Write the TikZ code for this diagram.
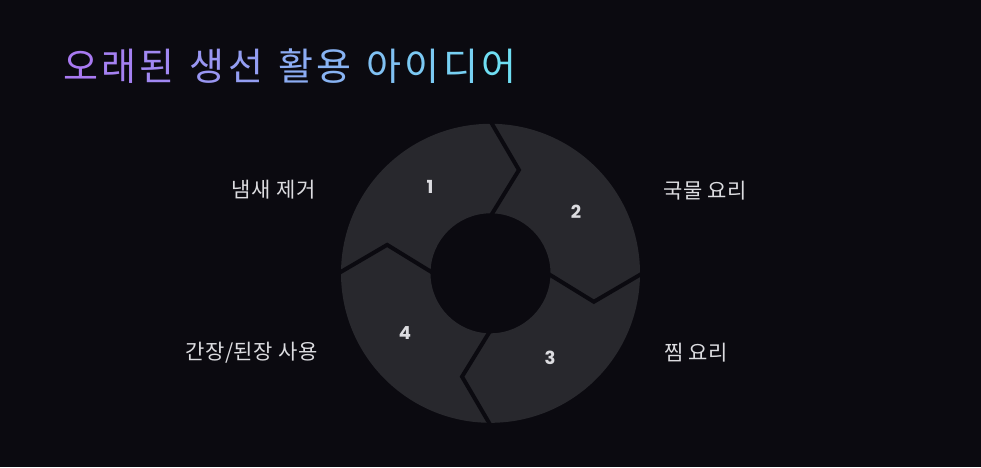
\documentclass[tikz,border=0pt]{standalone}
\usepackage{fontspec}
\setmainfont{Noto Sans CJK KR}
\newfontfamily\numfont{Poppins}
\definecolor{bg}{HTML}{0B0A10}
\definecolor{seg}{HTML}{28282D}
\definecolor{lbl}{HTML}{DCDCE0}
\definecolor{tpur}{HTML}{A97AF2}
\definecolor{tcya}{HTML}{6FDEF3}
\newcommand\gradch[2]{\textcolor{tcya!#1!tpur}{#2}\kern3.4pt\relax}
\begin{document}
\begin{tikzpicture}[x=1pt,y=1pt,
  lbltext/.style={text=lbl,font=\fontsize{21}{23}\selectfont\addfontfeature{LetterSpace=3},inner sep=0pt},
  numtext/.style={text=lbl,font=\numfont\bfseries\fontsize{18}{20}\selectfont,inner sep=0pt},
  seam/.style={draw=bg,line width=4pt,line join=miter}]
\fill[bg] (0,0) rectangle (981,467);
\useasboundingbox (0,0) rectangle (981,467);
\coordinate (c) at (490.5,193.7);
\fill[seg,even odd rule] (c) circle[radius=149.5] (c) circle[radius=60];
\foreach \t in {90,0,-90,180} {
  \draw[seam,shift={(c)}] (\t:152) -- (\t-15.4:107.2) -- (\t:57);
}
\node[anchor=west,inner sep=0pt,font=\fontsize{38}{42}\selectfont\addfontfeature{LetterSpace=8}] (title) at (63,400.5)
  {\gradch{0}{오}\gradch{7}{래}\gradch{14}{된} \gradch{28}{생}\gradch{36}{선} \gradch{50}{활}\gradch{57}{용} \gradch{71}{아}\gradch{79}{이}\gradch{86}{디}\textcolor{tcya}{어}};
\node[numtext] (n1) at (430,280.3) {1};
\node[numtext] (n2) at (576,255.3) {2};
\node[numtext] (n3) at (550,109) {3};
\node[numtext] (n4) at (405,134) {4};
\node[lbltext,anchor=east] (l1) at (316,277) {냄새 제거};
\node[lbltext,anchor=west] (l2) at (663,276) {국물 요리};
\node[lbltext,anchor=west] (l3) at (664,114) {찜 요리};
\node[lbltext,anchor=east] (l4) at (318,114) {간장/된장 사용};
\end{tikzpicture}
\end{document}
